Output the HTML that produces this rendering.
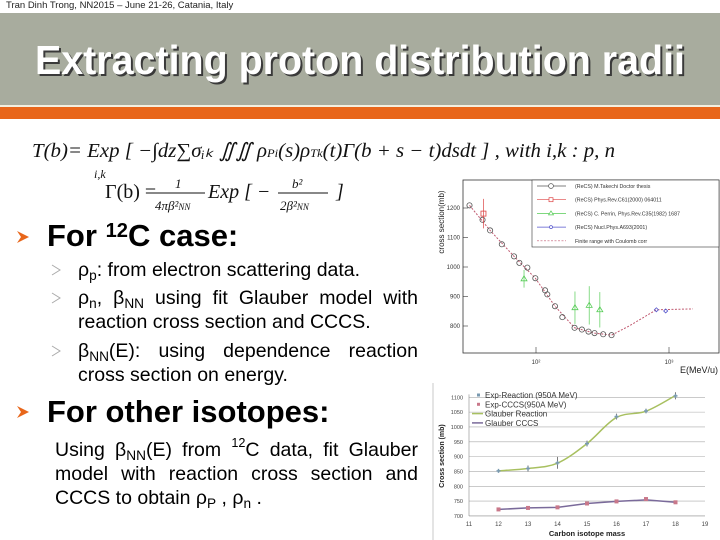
<!DOCTYPE html>
<html><head><meta charset="utf-8"><style>
body{margin:0;width:720px;height:540px;overflow:hidden;background:#fff;font-family:"Liberation Sans",sans-serif;position:relative}
.a{position:absolute;white-space:nowrap}
.sub{font-size:70%;vertical-align:-4px;line-height:0}
.sup{font-size:65%;vertical-align:9px;line-height:0}
.l{position:absolute;white-space:nowrap;text-align:justify;text-align-last:justify;line-height:24px}
</style></head><body>
<div class="a" style="left:6px;top:0;font-size:9.5px;color:#222">Tran Dinh Trong, NN2015 – June 21-26, Catania, Italy</div>
<div class="a" style="left:0;top:13px;width:720px;height:92px;background:#a8ac9e"></div>
<div class="a" style="left:0;top:105px;width:720px;height:2px;background:#f3efe0"></div>
<div class="a" style="left:0;top:107px;width:720px;height:12px;background:#e8661a"></div>
<svg class="a" style="left:0;top:0" width="720" height="540">
<text x="37" y="76" font-size="41" font-weight="bold" fill="#3a3a3a" textLength="650" lengthAdjust="spacingAndGlyphs" font-family="Liberation Sans">Extracting proton distribution radii</text>
<text x="35" y="74" font-size="41" font-weight="bold" fill="#fff" textLength="650" lengthAdjust="spacingAndGlyphs" font-family="Liberation Sans">Extracting proton distribution radii</text>
<g font-family="Liberation Serif" font-style="italic" font-size="20" fill="#111">
<text x="32" y="157" textLength="583" lengthAdjust="spacingAndGlyphs">T(b)= Exp [ −∫dz∑σᵢₖ ∬∬ ρ<tspan font-size="12">Pi</tspan>(s)ρ<tspan font-size="12">Tk</tspan>(t)Γ(b + s − t)dsdt ] , with  i,k : p, n</text>
<text x="94" y="178" font-size="12">i,k</text>
<text x="105" y="198" font-style="normal">Γ(b) = </text>
<text x="175" y="188" font-size="13">1</text>
<line x1="155" y1="193" x2="205" y2="193" stroke="#111"/>
<text x="155" y="210" font-size="13">4πβ²<tspan font-size="9">NN</tspan></text>
<text x="208" y="198">Exp [ −</text>
<text x="292" y="188" font-size="13">b²</text>
<line x1="278" y1="193" x2="328" y2="193" stroke="#111"/>
<text x="280" y="210" font-size="13">2β²<tspan font-size="9">NN</tspan></text>
<text x="336" y="198">]</text>
</g>
<g>
<path d="M17,231 L29,237 L17,243 L21,237Z" fill="#e8661a"/>
<path d="M17,406 L29,412 L17,418 L21,412Z" fill="#e8661a"/>
<path d="M52,265 L60,270 L52,275" fill="none" stroke="#aaa"/>
<path d="M52,293 L60,298 L52,303" fill="none" stroke="#aaa"/>
<path d="M52,346 L60,351 L52,356" fill="none" stroke="#aaa"/>
</g>
</svg>
<div class="a" style="left:47px;top:218px;font-size:31px;font-weight:bold">For <span class="sup">12</span>C case:</div>
<div class="l" style="left:78px;top:258px;font-size:19.5px;text-align-last:left">ρ<span class="sub">p</span>: from electron scattering data.</div>
<div class="l" style="left:78px;top:286px;width:340px;font-size:19.5px">ρ<span class="sub">n</span>, β<span class="sub">NN</span> using fit Glauber model with</div>
<div class="l" style="left:78px;top:310px;font-size:19.5px;text-align-last:left">reaction cross section and CCCS.</div>
<div class="l" style="left:78px;top:339px;width:340px;font-size:19.5px">β<span class="sub">NN</span>(E): using dependence reaction</div>
<div class="l" style="left:78px;top:363px;font-size:19.5px;text-align-last:left">cross section on energy.</div>
<div class="a" style="left:47px;top:394px;font-size:31px;font-weight:bold">For other isotopes:</div>
<div class="l" style="left:55px;top:438px;width:363px;font-size:19.5px">Using β<span class="sub">NN</span>(E) from <span class="sup">12</span>C data, fit Glauber</div>
<div class="l" style="left:55px;top:462px;width:363px;font-size:19.5px">model with reaction cross section and</div>
<div class="l" style="left:55px;top:486px;font-size:19.5px;text-align-last:left">CCCS to obtain ρ<span class="sub">P</span> , ρ<span class="sub">n</span> .</div>

<svg class="a" id="c1" style="left:0;top:0" width="720" height="540" font-family="Liberation Sans"></svg>
<svg class="a" id="c2" style="left:0;top:0" width="720" height="540" font-family="Liberation Sans"></svg>
<script>
// Chart 1 data (log10 E, sigma)
const takLogE=[1.5,1.598,1.655,1.743,1.835,1.875,1.935,1.995,2.068,2.085,2.143,2.198,2.29,2.345,2.395,2.44,2.505,2.568];
const takSig=[1209,1160,1124,1077,1036,1014,998,962,921,907,867,830,794,788,781,776,772,769];
const redLogE=[1.605]; const redSig=[1181]; const redErr=[50];
const grnLogE=[1.91,2.293,2.4,2.48]; const grnSig=[960,862,870,855]; const grnErr=[30,55,65,60];
const bluLogE=[2.905,2.975]; const bluSig=[855,851];
const fitLogE=[1.5,1.655,1.835,1.995,2.143,2.29,2.44,2.568,2.7,2.905,3.0,3.18];
const fitSig=[1209,1124,1036,962,867,794,776,769,800,855,856,858];
const c1YTicks=[800,900,1000,1100,1200];
const c1XTicks=[2,3]; const c1XLabels=['10²','10³'];
// Chart 2 data
const masses=[12,13,14,15,16,17,18];
const expReaction=[852,860,879,944,1035,1054,1105];
const expReactionErr=[5,10,20,10,10,8,12];
const expCCCS=[722,727,729,742,749,757,746];
const glauberReaction=[852,860,878,944,1032,1053,1106];
const glauberCCCS=[722,727,729,742,749,754,746];
const c2YTicks=[700,750,800,850,900,950,1000,1050,1100];
const c2XTicks=[11,12,13,14,15,16,17,18,19];

const NS='http://www.w3.org/2000/svg';
function mk(svg,t,a,txt){const e=document.createElementNS(NS,t);for(const k in a)e.setAttribute(k,a[k]);if(txt!==undefined)e.textContent=txt;svg.appendChild(e);return e;}
// ---- chart 1
const c1=document.getElementById('c1');
const x1=l=>536+(l-2)*133, y1=v=>208+(1200-v)*0.295;
let e=mk(c1,'rect',{x:463,y:180,width:256,height:173,fill:'none',stroke:'#333','stroke-width':0.8});


c1YTicks.forEach(v=>{e=mk(c1,'text',{x:460,y:y1(v)+2,'font-size':6,'text-anchor':'end',fill:'#333'},v);


mk(c1,'line',{x1:463,x2:468,y1:y1(v),y2:y1(v),stroke:'#333','stroke-width':0.6});});
c1XTicks.forEach((l,i)=>{e=mk(c1,'text',{x:x1(l),y:364,'font-size':6,'text-anchor':'middle',fill:'#333'},c1XLabels[i]);


mk(c1,'line',{x1:x1(l),x2:x1(l),y1:353,y2:347,stroke:'#333','stroke-width':0.6});});
e=mk(c1,'text',{x:718,y:373,'font-size':9,'text-anchor':'end',fill:'#222'},'E(MeV/u)');


e=mk(c1,'text',{x:0,y:0,'font-size':8,'text-anchor':'middle',fill:'#222',transform:'translate(444,222) rotate(-90)'},'cross section(mb)');


e=mk(c1,'polyline',{points:fitLogE.map((l,i)=>x1(l)+','+y1(fitSig[i])).join(' '),fill:'none',stroke:'#c05a70','stroke-width':1,'stroke-dasharray':'2,1.5'});


takLogE.forEach((l,i)=>{e=mk(c1,'circle',{cx:x1(l),cy:y1(takSig[i]),r:2.6,fill:'none',stroke:'#555','stroke-width':0.8});

});
redLogE.forEach((l,i)=>{mk(c1,'line',{x1:x1(l),x2:x1(l),y1:y1(redSig[i]+redErr[i]),y2:y1(redSig[i]-redErr[i]),stroke:'#d44','stroke-width':0.7});
e=mk(c1,'rect',{x:x1(l)-2.5,y:y1(redSig[i])-2.5,width:5,height:5,fill:'none',stroke:'#d44','stroke-width':0.8});

});
grnLogE.forEach((l,i)=>{const X=x1(l),Y=y1(grnSig[i]);mk(c1,'line',{x1:X,x2:X,y1:y1(grnSig[i]+grnErr[i]),y2:y1(grnSig[i]-grnErr[i]),stroke:'#5c5','stroke-width':0.7});
e=mk(c1,'path',{d:`M${X},${Y-3}L${X+3},${Y+2}L${X-3},${Y+2}Z`,fill:'none',stroke:'#5c5','stroke-width':0.8});

});
bluLogE.forEach((l,i)=>{const X=x1(l),Y=y1(bluSig[i]);e=mk(c1,'path',{d:`M${X},${Y-2}L${X+2},${Y}L${X},${Y+2}L${X-2},${Y}Z`,fill:'none',stroke:'#55c','stroke-width':0.8});

});
e=mk(c1,'rect',{x:532,y:180,width:187,height:67,fill:'#fff',stroke:'#333','stroke-width':0.6});


const leg1=[['(ReCS) M.Takechi Doctor thesis','#555'],['(ReCS) Phys.Rev.C61(2000) 064011','#d44'],['(ReCS) C. Perrin, Phys.Rev.C35(1982) 1687','#5c5'],['(ReCS) Nucl.Phys.A693(2001)','#55c'],['Finite range with Coulomb corr','#c05a70']];
leg1.forEach((d,i)=>{const Y=186+i*13.7;mk(c1,'line',{x1:537,x2:566,y1:Y,y2:Y,stroke:d[1],'stroke-width':0.7,'stroke-dasharray':i==4?'2,1.5':'none'});
if(i==0)mk(c1,'circle',{cx:551,cy:Y,r:2.4,fill:'#fff',stroke:d[1],'stroke-width':0.7});
if(i==1)mk(c1,'rect',{x:549,y:Y-2,width:4,height:4,fill:'#fff',stroke:d[1],'stroke-width':0.7});
if(i==2)mk(c1,'path',{d:`M551,${Y-2.5}L553.5,${Y+1.5}L548.5,${Y+1.5}Z`,fill:'#fff',stroke:d[1],'stroke-width':0.7});
if(i==3)mk(c1,'circle',{cx:551,cy:Y,r:1.5,fill:'#fff',stroke:d[1],'stroke-width':0.7});
e=mk(c1,'text',{x:575,y:Y+2,'font-size':5.3,fill:'#333'},d[0]);

});
// ---- chart 2
const c2=document.getElementById('c2');
const x2=m=>469+(m-11)*29.5, y2=v=>397.3+(1100-v)*0.2966;
mk(c2,'line',{x1:433,x2:433,y1:383,y2:540,stroke:'#bbb','stroke-width':0.8});
c2YTicks.forEach(v=>{if(v>700){e=mk(c2,'line',{x1:469,x2:705,y1:y2(v),y2:y2(v),stroke:'#aaa','stroke-width':0.6});

}
e=mk(c2,'text',{x:463,y:y2(v)+2,'font-size':5.5,'text-anchor':'end',fill:'#444'},v);

});
mk(c2,'line',{x1:469,x2:469,y1:y2(1110),y2:y2(700),stroke:'#888','stroke-width':0.6});
mk(c2,'line',{x1:469,x2:705,y1:y2(700),y2:y2(700),stroke:'#888','stroke-width':0.6});
c2XTicks.forEach(m=>{e=mk(c2,'text',{x:x2(m),y:526,'font-size':6,'text-anchor':'middle',fill:'#444'},m);

});
e=mk(c2,'text',{x:587,y:536,'font-size':7.5,'font-weight':'bold','text-anchor':'middle',fill:'#222'},'Carbon isotope mass');


e=mk(c2,'text',{x:0,y:0,'font-size':7,'font-weight':'bold','text-anchor':'middle',fill:'#222',transform:'translate(444,456) rotate(-90)'},'Cross section (mb)');


function smooth(xs,ys){const P=xs.map((m,i)=>[x2(m),y2(ys[i])]);let d=`M${P[0][0]},${P[0][1]}`;
for(let i=0;i<P.length-1;i++){const p0=P[Math.max(0,i-1)],p1=P[i],p2=P[i+1],p3=P[Math.min(P.length-1,i+2)];
d+=`C${p1[0]+(p2[0]-p0[0])/6},${p1[1]+(p2[1]-p0[1])/6} ${p2[0]-(p3[0]-p1[0])/6},${p2[1]-(p3[1]-p1[1])/6} ${p2[0]},${p2[1]}`;}return d;}
e=mk(c2,'path',{d:smooth(masses,glauberReaction),fill:'none',stroke:'#a8c060','stroke-width':1.5});


e=mk(c2,'polyline',{points:masses.map((m,i)=>x2(m)+','+y2(glauberCCCS[i])).join(' '),fill:'none',stroke:'#7a6a9a','stroke-width':1.5});


masses.forEach((m,i)=>{const X=x2(m),Y=y2(expReaction[i]);mk(c2,'line',{x1:X,x2:X,y1:y2(expReaction[i]+expReactionErr[i]),y2:y2(expReaction[i]-expReactionErr[i]),stroke:'#444','stroke-width':0.7});
e=mk(c2,'path',{d:`M${X-2},${Y}H${X+2}M${X},${Y-2}V${Y+2}`,stroke:'#7a9ab0','stroke-width':1.5});


e=mk(c2,'rect',{x:X-2,y:y2(expCCCS[i])-2,width:4,height:4,fill:'#c9788a'});

});
const leg2=[['Exp-Reaction (950A MeV)','#7a9ab0'],['Exp-CCCS(950A MeV)','#c9788a'],['Glauber Reaction','#a8c060'],['Glauber CCCS','#7a6a9a']];
leg2.forEach((d,i)=>{const Y=395+i*9.3;
if(i<2)mk(c2,'rect',{x:477,y:Y-1.5,width:3,height:3,fill:d[1]});else mk(c2,'line',{x1:472,x2:483,y1:Y,y2:Y,stroke:d[1],'stroke-width':1.5});
e=mk(c2,'text',{x:485,y:Y+3,'font-size':8,fill:'#333'},d[0]);

});
</script>
</body></html>
